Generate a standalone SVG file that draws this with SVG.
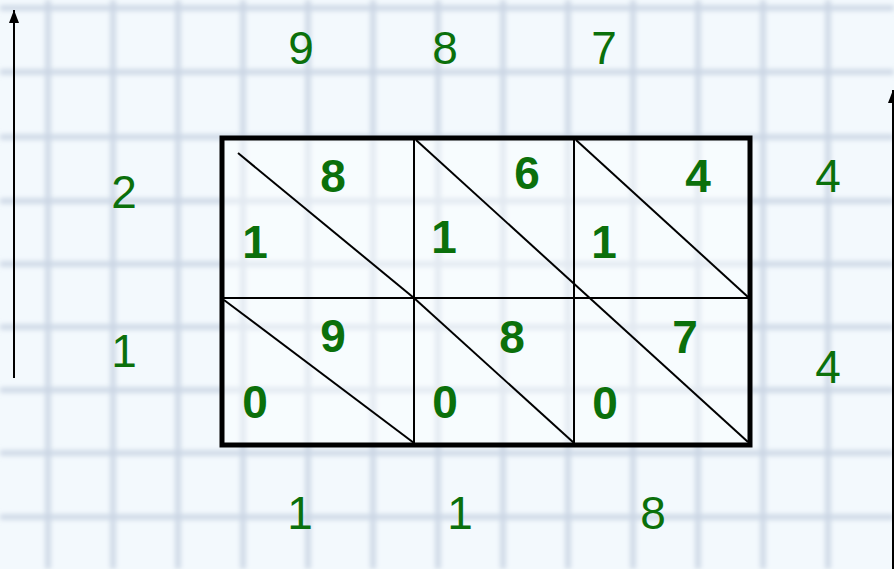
<svg xmlns="http://www.w3.org/2000/svg" width="894" height="569" viewBox="0 0 894 569">
<defs>
<filter id="blur" x="-5%" y="-5%" width="110%" height="110%"><feGaussianBlur stdDeviation="2.5"/></filter>
<marker id="ah" viewBox="0 0 13 10" refX="13" refY="5" markerWidth="13" markerHeight="10" markerUnits="userSpaceOnUse" orient="auto"><path d="M0,0 L13,5 L0,10 Z" fill="#000"/></marker>
</defs>
<style>
.grid line{stroke:#cad5e4;stroke-width:5}
.num{font-family:"Liberation Sans",Arial,sans-serif;font-size:46px;fill:#0b700b;text-anchor:middle}
.b{font-weight:bold}
.thin{stroke:#000;stroke-width:2;fill:none}
</style>
<rect width="894" height="569" fill="#f3f9fd"/>
<g class="grid" filter="url(#blur)">
<line x1="48" y1="0" x2="48" y2="569"/><line x1="113" y1="0" x2="113" y2="569"/><line x1="178" y1="0" x2="178" y2="569"/><line x1="243" y1="0" x2="243" y2="569"/><line x1="308" y1="0" x2="308" y2="569"/><line x1="373" y1="0" x2="373" y2="569"/><line x1="438" y1="0" x2="438" y2="569"/><line x1="503" y1="0" x2="503" y2="569"/><line x1="568" y1="0" x2="568" y2="569"/><line x1="633" y1="0" x2="633" y2="569"/><line x1="698" y1="0" x2="698" y2="569"/><line x1="763" y1="0" x2="763" y2="569"/><line x1="828" y1="0" x2="828" y2="569"/>
<line x1="0" y1="8" x2="894" y2="8"/><line x1="0" y1="72" x2="894" y2="72"/><line x1="0" y1="137" x2="894" y2="137"/><line x1="0" y1="201" x2="894" y2="201"/><line x1="0" y1="264" x2="894" y2="264"/><line x1="0" y1="327" x2="894" y2="327"/><line x1="0" y1="390" x2="894" y2="390"/><line x1="0" y1="453" x2="894" y2="453"/><line x1="0" y1="517" x2="894" y2="517"/>
</g>
<g id="connectors">
<line x1="14" y1="378" x2="14" y2="10" stroke="#000" stroke-width="2" marker-end="url(#ah)"/>
<line x1="893" y1="569" x2="893" y2="90" stroke="#000" stroke-width="2" marker-end="url(#ah)"/>
</g>
<g id="table">
<rect x="222" y="138" width="528" height="307" fill="#fdfefe" fill-opacity="0.45" stroke="none"/>
<line class="thin" x1="414" y1="138" x2="414" y2="445"/>
<line class="thin" x1="574" y1="138" x2="574" y2="445"/>
<line class="thin" x1="222" y1="298" x2="750" y2="298"/>
<line class="thin" x1="238" y1="153" x2="414" y2="298"/>
<line class="thin" x1="416" y1="140" x2="748" y2="442"/>
<line class="thin" x1="576" y1="140" x2="748" y2="297"/>
<line class="thin" x1="224" y1="300" x2="414" y2="443"/>
<line class="thin" x1="414" y1="298" x2="574" y2="443"/>
<rect x="222" y="138" width="528" height="307" fill="none" stroke="#000" stroke-width="5"/>
</g>
<g id="cells">
<text class="num b" x="333" y="192">8</text>
<text class="num b" x="255" y="258">1</text>
<text class="num b" x="527" y="189">6</text>
<text class="num b" x="444" y="253">1</text>
<text class="num b" x="698" y="192">4</text>
<text class="num b" x="604" y="258">1</text>
<text class="num b" x="333" y="352">9</text>
<text class="num b" x="255" y="418">0</text>
<text class="num b" x="512" y="353">8</text>
<text class="num b" x="445" y="418">0</text>
<text class="num b" x="685" y="353">7</text>
<text class="num b" x="605" y="419">0</text>
</g>
<g id="labels">
<text class="num" x="301" y="64">9</text>
<text class="num" x="445" y="64">8</text>
<text class="num" x="604" y="64">7</text>
<text class="num" x="124" y="208">2</text>
<text class="num" x="124" y="367">1</text>
<text class="num" x="828" y="192">4</text>
<text class="num" x="828" y="383">4</text>
<text class="num" x="300" y="529">1</text>
<text class="num" x="460" y="529">1</text>
<text class="num" x="653" y="529">8</text>
</g>
</svg>
